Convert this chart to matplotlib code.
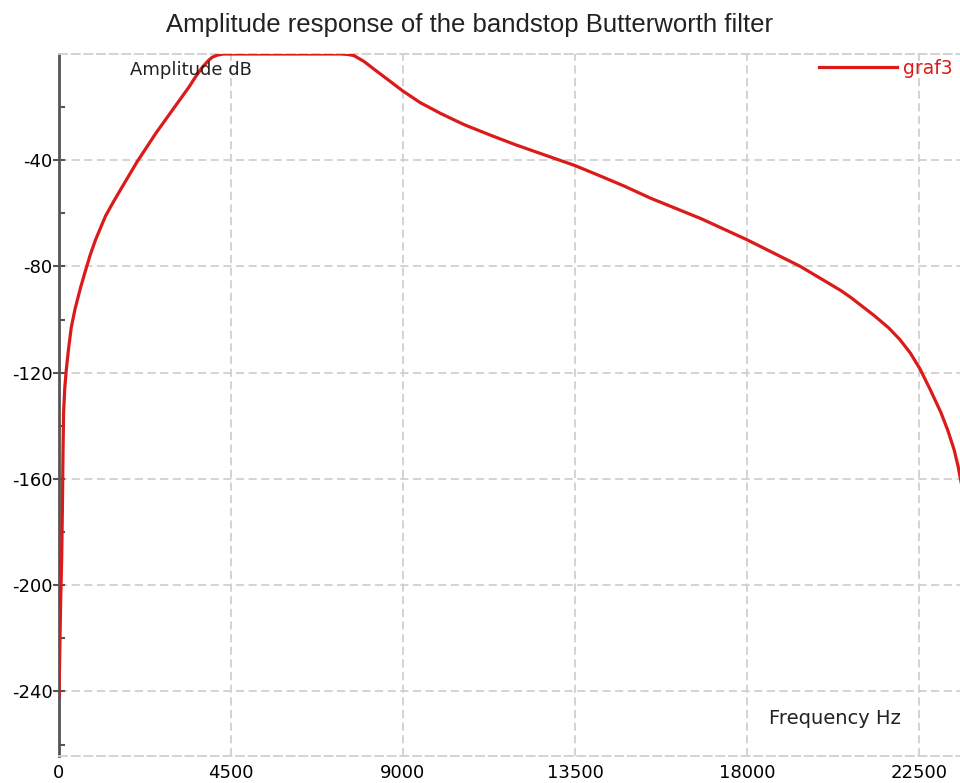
import matplotlib
matplotlib.use('Agg')
import matplotlib.pyplot as plt
from matplotlib.ticker import FixedLocator

# amplitude response (Hz, dB)
freq_hz = [0, 20, 45, 70, 90, 105, 120, 150, 190, 250, 320, 420, 563, 694, 820,
           955, 1217, 1430, 1654, 2047, 2526, 2963, 3398, 3600, 3749, 3900, 4010,
           4150, 4300, 5000, 6000, 7000, 7369, 7550, 7717, 7980, 8241, 8600, 8984,
           9450, 9987, 10600, 11296, 11950, 12605, 13500, 14175, 14800, 15480,
           16800, 18010, 19400, 20450, 20720, 21330, 21700, 22000, 22270, 22525,
           22800, 23075, 23250, 23420, 23520, 23600, 23700, 23800]
amp_db = [-242, -225, -205, -190, -170, -150, -135, -126, -119, -111, -103, -96,
          -88, -81.5, -75.5, -70, -61, -55.5, -50, -40.5, -30, -21.2, -12.5, -8,
          -5, -2.6, -1.2, -0.4, 0, 0, 0, 0, 0, -0.15, -0.6, -2.8, -5.7, -9.6,
          -13.8, -18.3, -22.4, -26.6, -30.6, -34.2, -37.5, -42, -46, -49.8, -54.3,
          -62, -70, -80, -89, -91.7, -98.5, -103, -107.5, -112.5, -118.5,
          -126.5, -135, -141.5, -149, -155, -161, -170, -181]

x_ticks = [0, 4500, 9000, 13500, 18000, 22500]
y_ticks = [-240, -200, -160, -120, -80, -40]
y_minor = [-260, -220, -180, -140, -100, -60, -20]

plt.rcParams['axes.unicode_minus'] = False
plt.rcParams['font.family'] = 'DejaVu Sans'

fig = plt.figure(figsize=(9.6, 7.83), dpi=100)
W, H = 960, 783
ax = fig.add_axes([59 / W, 1 - 756 / H, 1 - 59 / W, (756 - 54) / H])

red = '#dc1a1a'
ax.plot(freq_hz, amp_db, color=red, lw=2.3, label='graf3', zorder=3,
		solid_joinstyle='round')

ax.set_xlim(0, 23574)
ax.set_ylim(-264.3, 0)

ax.set_xticks(x_ticks)
ax.set_yticks(y_ticks)
ax.yaxis.set_minor_locator(FixedLocator(y_minor))
dash = (0, (4.5, 2.5))
ax.grid(True, color='#d0d0d0', ls=dash, lw=1.3)
ax.set_axisbelow(True)

for s in ['top', 'bottom']:
	ax.spines[s].set_color('#d0d0d0')
	ax.spines[s].set_linestyle(dash)
	ax.spines[s].set_linewidth(1.3)
ax.spines['right'].set_visible(False)
ax.spines['left'].set_color('#555555')
ax.spines['left'].set_linewidth(2)

ax.tick_params(axis='y', which='major', direction='inout', length=9, width=1.5,
			   color='#555555', labelsize=13, pad=0)
ax.tick_params(axis='y', which='minor', direction='in', length=4, width=1.5,
			   color='#555555')
ax.tick_params(axis='x', which='major', length=0, labelsize=13, pad=6)

ax.text(130 / W, 1 - 70 / H, 'Amplitude dB', transform=fig.transFigure,
		fontsize=13, color='#222222', va='center', ha='left')
ax.text(769 / W, 1 - 718 / H, 'Frequency Hz', transform=fig.transFigure,
		fontsize=14, color='#222222', va='center', ha='left')

fig.text(469 / W, 1 - 25 / H, 'Amplitude response of the bandstop Butterworth filter',
		 ha='center', va='center', fontsize=18.5, family='Liberation Sans', color='#222222')

ax.legend(loc='center left', bbox_to_anchor=(819 / W, 1 - 68 / H),
		  bbox_transform=fig.transFigure, frameon=False, handlelength=4.15,
		  handletextpad=0.35, borderpad=0, borderaxespad=0, fontsize=13.5,
		  labelcolor='linecolor')

fig.savefig('out.png', dpi=100)
